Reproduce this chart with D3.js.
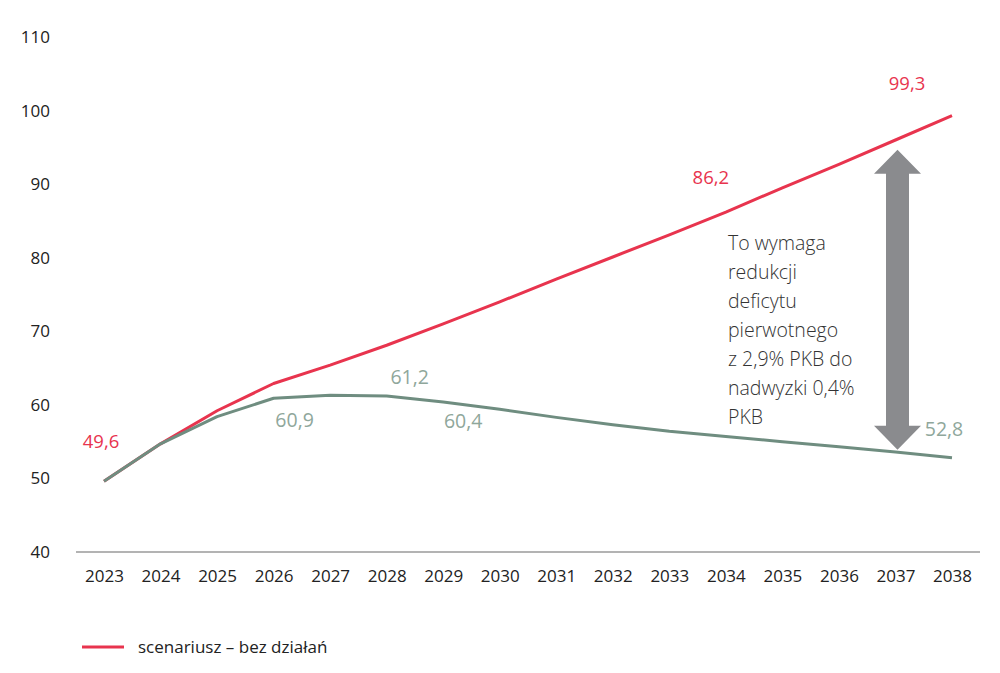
<!DOCTYPE html>
<html>
<head>
<meta charset="utf-8">
<script src="https://cdn.jsdelivr.net/npm/d3@7"></script>
<style>
  html, body { margin: 0; padding: 0; background: #fff; }
  svg { display: block; font-family: "Open Sans", "Lato", sans-serif; }
</style>
</head>
<body>
<svg id="chart" width="1000" height="673"></svg>
<script>
const years = [2023, 2024, 2025, 2026, 2027, 2028, 2029, 2030, 2031, 2032, 2033, 2034, 2035, 2036, 2037, 2038];
const noActionSeries = [49.6, 54.7, 59.2, 62.9, 65.4, 68.1, 71.0, 74.0, 77.1, 80.1, 83.1, 86.2, 89.5, 92.7, 96.0, 99.3];
const reformSeries = [49.6, 54.7, 58.4, 60.9, 61.3, 61.2, 60.4, 59.4, 58.3, 57.3, 56.4, 55.7, 55.0, 54.3, 53.6, 52.8];
const yTicks = [40, 50, 60, 70, 80, 90, 100, 110];
const legendLabel = "scenariusz – bez działań";
const annotationLines = ["To wymaga", "redukcji", "deficytu", "pierwotnego", "z 2,9% PKB do", "nadwyzki 0,4%", "PKB"];
// value labels: [year index, text, dx, dy]
const redLabels = [[0, "49,6", -3, -40], [11, "86,2", -15, -35], [15, "99,3", -45, -32]];
const greenLabels = [[3, "60,9", 21, 22], [5, "61,2", 23, -19], [6, "60,4", 20, 19], [15, "52,8", -8, -29]];
const arrowRange = [96.3, 53.5];

const RED = "#e8344e", GREEN = "#6f8d80", GREEN_TXT = "#8fa79b";
const svg = d3.select("#chart");
const x = d3.scaleLinear().domain([2023, 2038]).range([104, 952]);
const y = d3.scaleLinear().domain([40, 110]).range([552, 37]);

// y tick labels
svg.append("g").selectAll("text").data(yTicks).join("text")
  .attr("x", 50).attr("y", d => y(d)).attr("dy", "0.35em")
  .attr("text-anchor", "end").attr("font-size", 17).attr("fill", "#222")
  .text(d => d);

// baseline axis
const xAxis = d3.axisBottom(x).tickValues(years).tickFormat(d3.format("d")).tickSize(0).tickPadding(18);
const gx = svg.append("g").attr("transform", `translate(0,${y(40)})`).call(xAxis);
gx.select(".domain").remove();
gx.append("line").attr("x1", 76).attr("x2", 980).attr("stroke", "#9a9a9a").attr("stroke-width", 1.5);
gx.selectAll(".tick text").attr("font-size", 17).attr("fill", "#222").attr("font-family", "Open Sans, sans-serif");

const line = d3.line().x((d, i) => x(years[i])).y(d => y(d));
svg.append("path").datum(noActionSeries).attr("d", line)
  .attr("fill", "none").attr("stroke", RED).attr("stroke-width", 3).attr("stroke-linejoin", "round");
svg.append("path").datum(reformSeries).attr("d", line)
  .attr("fill", "none").attr("stroke", GREEN).attr("stroke-width", 3).attr("stroke-linejoin", "round");

svg.append("g").selectAll("text").data(redLabels).join("text")
  .attr("x", d => x(years[d[0]]) + d[2]).attr("y", d => y(noActionSeries[d[0]]) + d[3])
  .attr("text-anchor", "middle").attr("dy", "0.35em").attr("font-size", 18.5).attr("fill", RED)
  .text(d => d[1]);
svg.append("g").selectAll("text").data(greenLabels).join("text")
  .attr("x", d => x(years[d[0]]) + d[2]).attr("y", d => y(reformSeries[d[0]]) + d[3])
  .attr("text-anchor", "middle").attr("dy", "0.35em").attr("font-size", 19.5).attr("fill", GREEN_TXT)
  .text(d => d[1]);

// double arrow
const ax = 897.5, yTop = y(arrowRange[0]) + 12, yBot = y(arrowRange[1]) - 3;
const hw = 23.5, sw = 11.5, hh = 24;
const pts = [
  [ax, yTop], [ax + hw, yTop + hh], [ax + sw, yTop + hh], [ax + sw, yBot - hh], [ax + hw, yBot - hh],
  [ax, yBot], [ax - hw, yBot - hh], [ax - sw, yBot - hh], [ax - sw, yTop + hh], [ax - hw, yTop + hh]
];
svg.append("path").attr("d", d3.line()(pts) + "Z").attr("fill", "#8a8b8e");

// annotation text
svg.append("g").selectAll("text").data(annotationLines).join("text")
  .attr("x", 728).attr("y", (d, i) => 243 + i * 29).attr("dy", "0.35em")
  .attr("font-size", 19.5).attr("fill", "#333").attr("font-weight", 300)
  .text(d => d);

// legend
const lg = svg.append("g");
lg.append("line").attr("x1", 82).attr("x2", 124).attr("y1", 647).attr("y2", 647)
  .attr("stroke", RED).attr("stroke-width", 3);
lg.append("text").attr("x", 138).attr("y", 647).attr("dy", "0.35em")
  .attr("font-size", 17).attr("fill", "#222").text(legendLabel);
</script>
</body>
</html>
